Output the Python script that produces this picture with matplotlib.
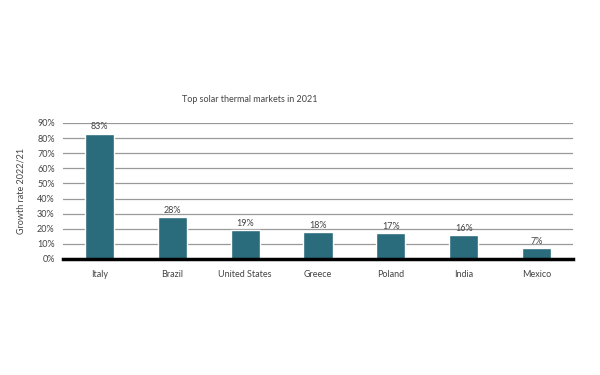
import numpy as np
import matplotlib.pyplot as plt

countries = ['Italy', 'Brazil', 'United States', 'Greece', 'Poland', 'India', 'Mexico']
growth = [83, 28, 19, 18, 17, 16, 7]
yticks = [0, 10, 20, 30, 40, 50, 60, 70, 80, 90]

plt.rcParams['font.family'] = ['Lato', 'DejaVu Sans']

fig = plt.figure(figsize=(6, 3.75), dpi=100)
ax = fig.add_axes([63/600, 1 - 259/375, 510/600, 136/375])

x = np.arange(len(countries))
bars = ax.bar(x, growth, width=0.4, color='#2a6b7c', edgecolor='white', linewidth=1, zorder=3)

for xi, v in zip(x, growth):
    ax.annotate('%d%%' % v, (xi, v), xytext=(0, 1.5), textcoords='offset points',
                ha='center', va='bottom', fontsize=6.5, color='#444444', zorder=4)

ax.set_xlim(-0.5, len(countries) - 0.5)
ax.set_ylim(0, 90)
ax.set_yticks(yticks)
ax.set_yticklabels(['%d%%' % t for t in yticks], fontsize=6.5, color='#444444')
ax.set_xticks(x)
ax.set_xticklabels(countries, fontsize=6.5, color='#444444')
ax.tick_params(axis='both', length=0)
ax.tick_params(axis='x', pad=8)
ax.tick_params(axis='y', pad=6)

ax.yaxis.grid(True, color='#999999', linewidth=0.9, zorder=0)
ax.axhline(0, color='black', linewidth=2.5, zorder=5, clip_on=False)
for s in ax.spines.values():
    s.set_visible(False)

ax.set_ylabel('Growth rate 2022/21', fontsize=6.5, color='#444444', labelpad=8)
fig.text(250/600, 1 - 100/375, 'Top solar thermal markets in 2021', ha='center', va='center',
         fontsize=6.5, color='#444444')

plt.savefig('out.png', dpi=100)
